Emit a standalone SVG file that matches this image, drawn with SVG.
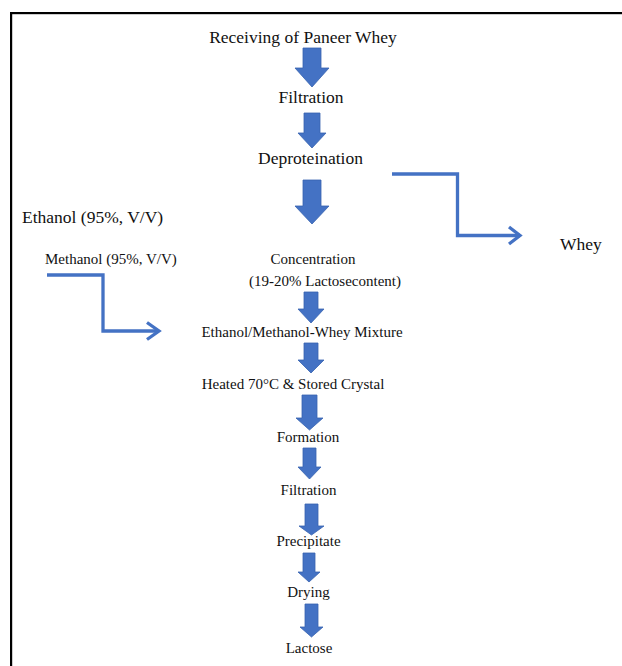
<svg xmlns="http://www.w3.org/2000/svg" width="622" height="666" viewBox="0 0 622 666">
<style>
.big{font-family:"Liberation Serif","Times New Roman",serif;font-size:17.5px;fill:#111}
.sm{font-family:"Liberation Serif","Times New Roman",serif;font-size:15px;fill:#111}
.c{text-anchor:middle}
.blk{fill:#4472C4;stroke:#3763b0;stroke-width:0.8}
.con{fill:none;stroke:#4472C4;stroke-width:3.3;stroke-linejoin:miter}
.chev{fill:none;stroke:#4472C4;stroke-width:3.3;stroke-linecap:butt}
</style>
<rect width="622" height="666" fill="#fff"/>
<g id="frame" fill="#000">
<rect x="10" y="12" width="612" height="2.2"/>
<rect x="10" y="12" width="2.2" height="654"/>
</g>
<g id="n-receiving"><text class="big c" x="303" y="43">Receiving of Paneer Whey</text></g>
<g id="n-filtration1"><text class="big c" x="311" y="103">Filtration</text></g>
<g id="n-deproteination"><text class="big c" x="310.5" y="164">Deproteination</text></g>
<g id="n-ethanol"><text class="big" x="22" y="223">Ethanol (95%, V/V)</text></g>
<g id="n-whey"><text class="big" x="560" y="250">Whey</text></g>
<g id="n-methanol"><text class="sm" x="45" y="264">Methanol (95%, V/V)</text></g>
<g id="n-concentration"><text class="sm c" x="313" y="264">Concentration</text><text class="sm c" x="325" y="286">(19-20% Lactosecontent)</text></g>
<g id="n-mixture"><text class="sm c" x="302" y="337">Ethanol/Methanol-Whey Mixture</text></g>
<g id="n-heated"><text class="sm c" x="293" y="389">Heated 70°C &amp; Stored Crystal</text></g>
<g id="n-formation"><text class="sm c" x="308" y="442">Formation</text></g>
<g id="n-filtration2"><text class="sm c" x="308.5" y="495">Filtration</text></g>
<g id="n-precipitate"><text class="sm c" x="308.5" y="546">Precipitate</text></g>
<g id="n-drying"><text class="sm c" x="308.5" y="597">Drying</text></g>
<g id="n-lactose"><text class="sm c" x="309" y="653">Lactose</text></g>
<g id="connectors">
<path class="blk" d="M303,48H321V68H329L312,87L295,68H303Z"/>
<path class="blk" d="M304,113H320V133H326L312,148L298,133H304Z"/>
<path class="blk" d="M303,180H321V206H329L312,224L295,206H303Z"/>
<path class="blk" d="M304,292H318V309H324L311,323L298,309H304Z"/>
<path class="blk" d="M304,343H318V360H324L311,373L298,360H304Z"/>
<path class="blk" d="M302,395H317V418H323L309.5,430L296,418H302Z"/>
<path class="blk" d="M303,448H316V467H321L309.5,479L298,467H303Z"/>
<path class="blk" d="M305,504H318V526H324L311.5,535L299,526H305Z"/>
<path class="blk" d="M303,553H315V572H320L309,582L298,572H303Z"/>
<path class="blk" d="M305,604H318V627H323L311.5,637L300,627H305Z"/>
<path class="con" d="M392,174H457.5V235.5H520"/>
<path class="chev" d="M509,227L520,235.5L509,244"/>
<path class="con" d="M47,275H103V331H159"/>
<path class="chev" d="M147,322.5L159,331L147,339.5"/>
</g>
</svg>
